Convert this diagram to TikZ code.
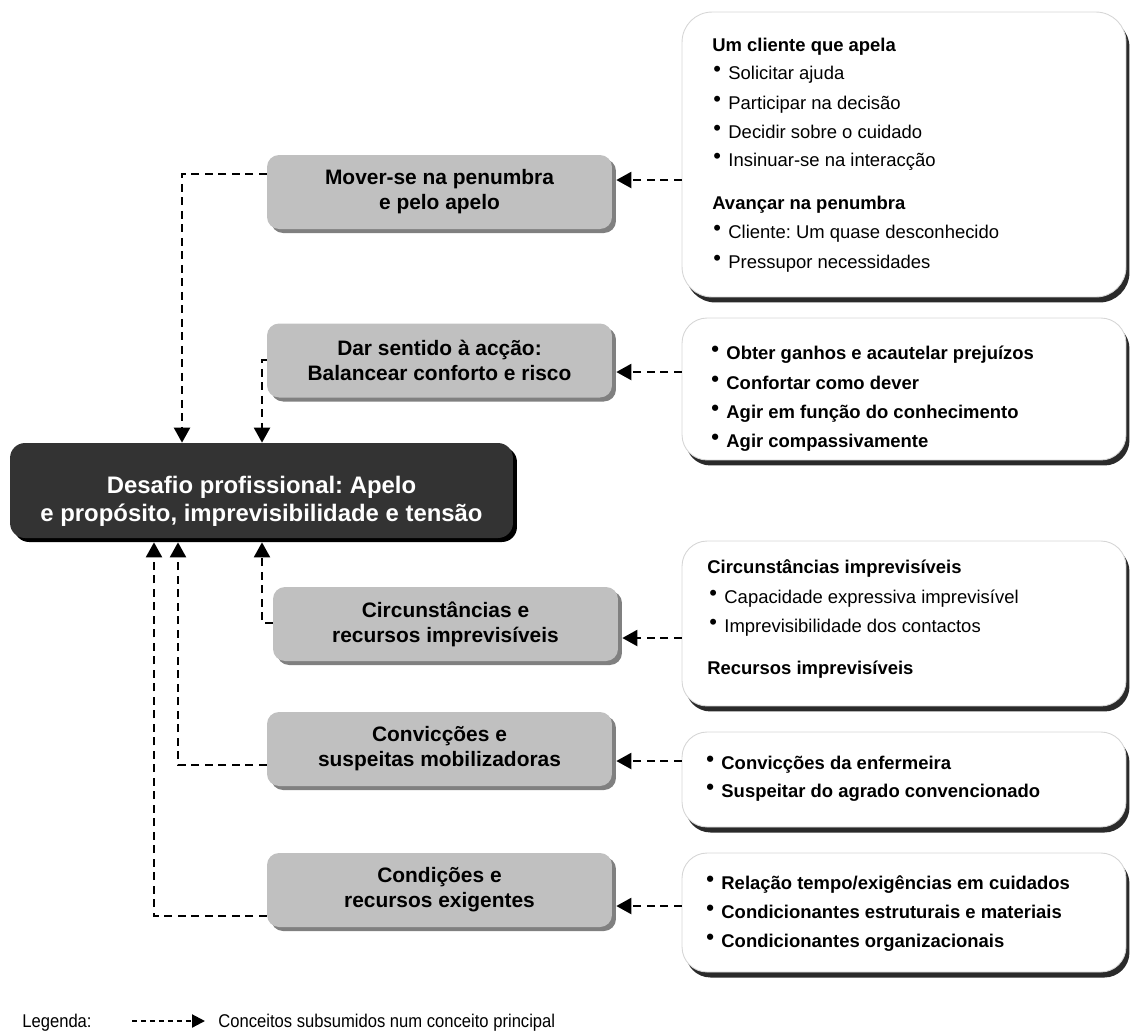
\documentclass[tikz,border=0pt]{standalone}
\usepackage{fontspec}
\setmainfont{Liberation Sans}
\newfontfamily\narrowfont[FakeStretch=0.9]{Liberation Sans}
\usetikzlibrary{arrows.meta,shadows,calc}
\frenchspacing
\definecolor{boxgray}{HTML}{C0C0C0}
\definecolor{boxshade}{HTML}{808080}
\definecolor{coredark}{HTML}{333333}
\definecolor{rimgray}{HTML}{D6D6D6}
\definecolor{cardshade}{HTML}{2A2A2A}
% raised bullet used in the lists
\newcommand\bul{\raisebox{0.22ex}{\fontsize{12.5}{12}\selectfont\textbullet}\hspace{0.4em}}

\begin{document}
\begin{tikzpicture}[x=0.02cm,y=-0.02cm,
  theme/.style={fill=boxgray, rounded corners=0.24cm,
    minimum width=6.9cm, minimum height=1.48cm, inner sep=0pt,
    align=center, font=\fontsize{11.9}{14.2}\selectfont\bfseries,
    drop shadow={shadow xshift=0.08cm, shadow yshift=-0.08cm, fill=boxshade, opacity=1}},
  core/.style={fill=coredark, rounded corners=0.3cm,
    minimum width=10.06cm, minimum height=1.9cm, inner sep=0pt,
    drop shadow={shadow xshift=0.08cm, shadow yshift=-0.08cm, fill=black, opacity=1}},
  card/.style={fill=white, draw=rimgray, line width=0.5pt, inner sep=0pt,
    minimum width=8.88cm,
    drop shadow={shadow xshift=0.07cm, shadow yshift=-0.11cm, fill=cardshade, opacity=1}},
  headtxt/.style={anchor=base west, inner sep=0pt, font=\fontsize{10.5}{12}\selectfont\bfseries},
  itemtxt/.style={anchor=base west, inner sep=0pt, font=\fontsize{10.5}{12}\selectfont},
  bolditem/.style={anchor=base west, inner sep=0pt, font=\fontsize{10.5}{12}\selectfont\bfseries},
  dep/.style={line width=1.25pt, dash pattern=on 0.16cm off 0.11cm,
    -{Triangle[length=0.3cm, width=0.32cm]}},
]
\useasboundingbox (0,0) rectangle (1132,1032);

% central concept
\node[core] (main) at (261.5,490.5) {};
\node[inner sep=0pt, align=center, text=white,
  font=\fontsize{13.6}{15.9}\selectfont\bfseries] (maintext) at (261.5,501)
  {Desafio profissional: Apelo\\e propósito, imprevisibilidade e tensão};

% sub-concepts
\node[theme] (g1) at (439.5,192) {Mover-se na penumbra\\e pelo apelo};
\node[theme] (g2) at (439.5,360.5) {Dar sentido à acção:\\Balancear conforto e risco};
\node[theme] (g3) at (445.5,624) {Circunstâncias e\\recursos imprevisíveis};
\node[theme] (g4) at (439.5,749) {Convicções e\\suspeitas mobilizadoras};
\node[theme] (g5) at (439.5,890) {Condições e\\recursos exigentes};

% property cards
\node[card, rounded corners=0.6cm, minimum height=5.7cm] (w1) at (904,154.5) {};
\node[card, rounded corners=0.5cm, minimum height=2.84cm] (w2) at (904,389) {};
\node[card, rounded corners=0.5cm, minimum height=3.3cm] (w3) at (904,623.5) {};
\node[card, rounded corners=0.5cm, minimum height=1.9cm] (w4) at (904,779.5) {};
\node[card, rounded corners=0.5cm, minimum height=2.38cm] (w5) at (904,912.5) {};

% card texts
\node[headtxt] (w1h1) at (712,51) {Um cliente que apela};
\node[itemtxt] (w1a) at (713,79) {\bul Solicitar ajuda};
\node[itemtxt] (w1b) at (713,109) {\bul Participar na decisão};
\node[itemtxt] (w1c) at (713,138) {\bul Decidir sobre o cuidado};
\node[itemtxt] (w1d) at (713,166) {\bul Insinuar-se na interacção};
\node[headtxt] (w1h2) at (712,209) {Avançar na penumbra};
\node[itemtxt] (w1e) at (713,238) {\bul Cliente: Um quase desconhecido};
\node[itemtxt] (w1f) at (713,268) {\bul Pressupor necessidades};

\node[bolditem] (w2a) at (711,359) {\bul Obter ganhos e acautelar prejuízos};
\node[bolditem] (w2b) at (711,389) {\bul Confortar como dever};
\node[bolditem] (w2c) at (711,418) {\bul Agir em função do conhecimento};
\node[bolditem] (w2d) at (711,447) {\bul Agir compassivamente};

\node[headtxt] (w3h1) at (707,573) {Circunstâncias imprevisíveis};
\node[itemtxt] (w3a) at (709,603) {\bul Capacidade expressiva imprevisível};
\node[itemtxt] (w3b) at (709,632) {\bul Imprevisibilidade dos contactos};
\node[headtxt] (w3h2) at (707,674) {Recursos imprevisíveis};

\node[bolditem] (w4a) at (706,769) {\bul Convicções da enfermeira};
\node[bolditem] (w4b) at (706,797) {\bul Suspeitar do agrado convencionado};

\node[bolditem] (w5a) at (706,889) {\bul Relação tempo/exigências em cuidados};
\node[bolditem] (w5b) at (706,918) {\bul Condicionantes estruturais e materiais};
\node[bolditem] (w5c) at (706,947) {\bul Condicionantes organizacionais};

% cards feed their sub-concepts
\draw[dep] (w1.west |- 0,180) -- ([xshift=0.08cm]g1.east |- 0,180);
\draw[dep] (w2.west |- 0,372) -- ([xshift=0.08cm]g2.east |- 0,372);
\draw[dep] (w3.west |- 0,638) -- ([xshift=0.08cm]g3.east |- 0,638);
\draw[dep] (w4.west |- 0,761) -- ([xshift=0.08cm]g4.east |- 0,761);
\draw[dep] (w5.west |- 0,906) -- ([xshift=0.08cm]g5.east |- 0,906);

% sub-concepts feed the central concept
\draw[dep] (g1.west |- 0,174) -| (182,0 |- main.north);
\draw[dep] (g2.west |- 0,360) -| (262,0 |- main.north);
\draw[dep] (g3.west |- 0,623) -| ([yshift=-0.08cm]262,0 |- main.south);
\draw[dep] (g4.west |- 0,765) -| ([yshift=-0.08cm]178,0 |- main.south);
\draw[dep] (g5.west |- 0,916) -| ([yshift=-0.08cm]154,0 |- main.south);

% legend
\node[anchor=base west, inner sep=0pt, font=\narrowfont\fontsize{10.5}{12}\selectfont] (legtitle) at (22,1027) {Legenda:};
\coordinate (legA) at (132,1021);
\coordinate (legB) at (205,1021);
\draw[line width=1.25pt, dash pattern=on 0.1cm off 0.08cm,
  -{Triangle[length=0.26cm, width=0.26cm]}] (legA) -- (legB);
\node[anchor=base west, inner sep=0pt, font=\narrowfont\fontsize{10.5}{12}\selectfont] (legtext) at (218,1027) {Conceitos subsumidos num conceito principal};
\end{tikzpicture}
\end{document}
